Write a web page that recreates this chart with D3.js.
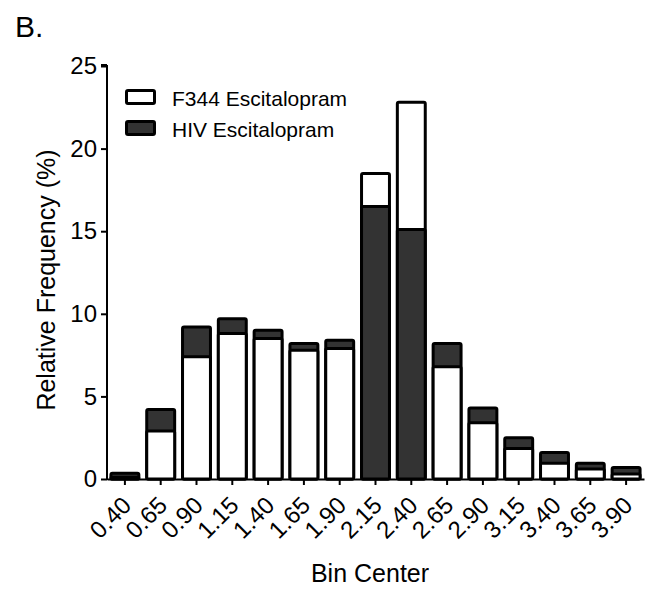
<!DOCTYPE html>
<html>
<head>
<meta charset="utf-8">
<script src="https://cdn.jsdelivr.net/npm/d3@7"></script>
<style>
  body { margin: 0; background: #fff; }
  text { font-family: Arial, "Liberation Sans", sans-serif; fill: #000; }
</style>
</head>
<body>
<div id="chart"></div>
<script>
//Bin centers and the two series (% per bin)
let binCenters = ["0.40", "0.65", "0.90", "1.15", "1.40", "1.65", "1.90", "2.15",
  "2.40", "2.65", "2.90", "3.15", "3.40", "3.65", "3.90"];
let f344Values = [0.1, 2.9, 7.4, 8.8, 8.5, 7.8, 7.9, 18.5, 22.8, 6.8, 3.4, 1.85, 0.95, 0.6, 0.3];
let hivValues = [0.35, 4.2, 9.2, 9.7, 9.0, 8.2, 8.4, 16.5, 15.1, 8.2, 4.3, 2.5, 1.6, 0.95, 0.7];
let yTicks = [0, 5, 10, 15, 20, 25];
let seriesNames = ["F344 Escitalopram", "HIV Escitalopram"];
let seriesColors = ["#ffffff", "#333333"];

let width = 646,
  height = 589;
let plot = { left: 107, right: 644, top: 66, bottom: 479 };

let svg = d3.select("#chart").append("svg")
  .attr("width", width)
  .attr("height", height);

let x = d3.scaleBand()
  .domain(binCenters)
  .range([plot.left, plot.right])
  .paddingInner(0.22)
  .paddingOuter(0.11);

let y = d3.scaleLinear()
  .domain([0, 25])
  .range([plot.bottom, plot.top]);

//Build one record per bar, taller bar drawn first so the shorter one sits in front
let bars = [];
binCenters.forEach(function (b, i) {
  let pair = [
    { bin: b, value: f344Values[i], s: 0 },
    { bin: b, value: hivValues[i], s: 1 }
  ];
  pair.sort(function (a, c) { return c.value - a.value; });
  bars.push(pair[0], pair[1]);
});

svg.append("g")
  .selectAll("rect")
  .data(bars)
  .enter().append("rect")
  .attr("x", function (d) { return x(d.bin); })
  .attr("width", x.bandwidth())
  .attr("y", function (d) { return y(d.value); })
  .attr("height", function (d) { return y(0) - y(d.value); })
  .attr("rx", 1.5)
  .attr("fill", function (d) { return seriesColors[d.s]; })
  .attr("stroke", "#000")
  .attr("stroke-width", 3);

//Y axis
let yAxis = svg.append("g")
  .attr("transform", "translate(" + plot.left + ",0)")
  .call(d3.axisLeft(y).tickValues(yTicks).tickSize(6).tickPadding(4));
yAxis.select(".domain").attr("stroke-width", 2).attr("d", "M0," + (plot.top - 1) + "H-6M0," + (plot.top - 1) + "V" + (plot.bottom + 1));
yAxis.selectAll(".tick line").attr("stroke-width", 2);
yAxis.selectAll(".tick text").style("font-size", "24px").attr("font-family", "Arial, 'Liberation Sans', sans-serif");

//X axis
let xAxis = svg.append("g")
  .attr("transform", "translate(0," + plot.bottom + ")")
  .call(d3.axisBottom(x).tickSize(6).tickSizeOuter(0).tickFormat(""));
xAxis.select(".domain").attr("stroke-width", 2);
xAxis.selectAll(".tick line").attr("stroke-width", 2);

svg.append("g")
  .selectAll("text")
  .data(binCenters)
  .enter().append("text")
  .attr("transform", function (d) {
    return "translate(" + (x(d) + x.bandwidth() / 2 - 4) + "," + (plot.bottom + 16) + ") rotate(-45)";
  })
  .attr("text-anchor", "end")
  .attr("dy", "0.7em")
  .style("font-size", "24px")
  .text(function (d) { return d; });

//Axis titles
svg.append("text")
  .attr("x", 370)
  .attr("y", 582)
  .attr("text-anchor", "middle")
  .style("font-size", "25px")
  .text("Bin Center");

svg.append("text")
  .attr("transform", "translate(55,280) rotate(-90)")
  .attr("text-anchor", "middle")
  .style("font-size", "25px")
  .text("Relative Frequency (%)");

svg.append("text")
  .attr("x", 15)
  .attr("y", 37)
  .style("font-size", "30px")
  .text("B.");

//Legend
let legend = svg.append("g")
  .selectAll("g")
  .data(seriesNames)
  .enter().append("g")
  .attr("transform", function (d, i) { return "translate(126.5," + (90.5 + i * 31) + ")"; });

legend.append("rect")
  .attr("width", 28)
  .attr("height", 13)
  .attr("rx", 1.5)
  .attr("fill", function (d, i) { return seriesColors[i]; })
  .attr("stroke", "#000")
  .attr("stroke-width", 3);

legend.append("text")
  .attr("x", 45.5)
  .attr("y", 15)
  .style("font-size", "21px")
  .text(function (d) { return d; });
</script>
</body>
</html>
